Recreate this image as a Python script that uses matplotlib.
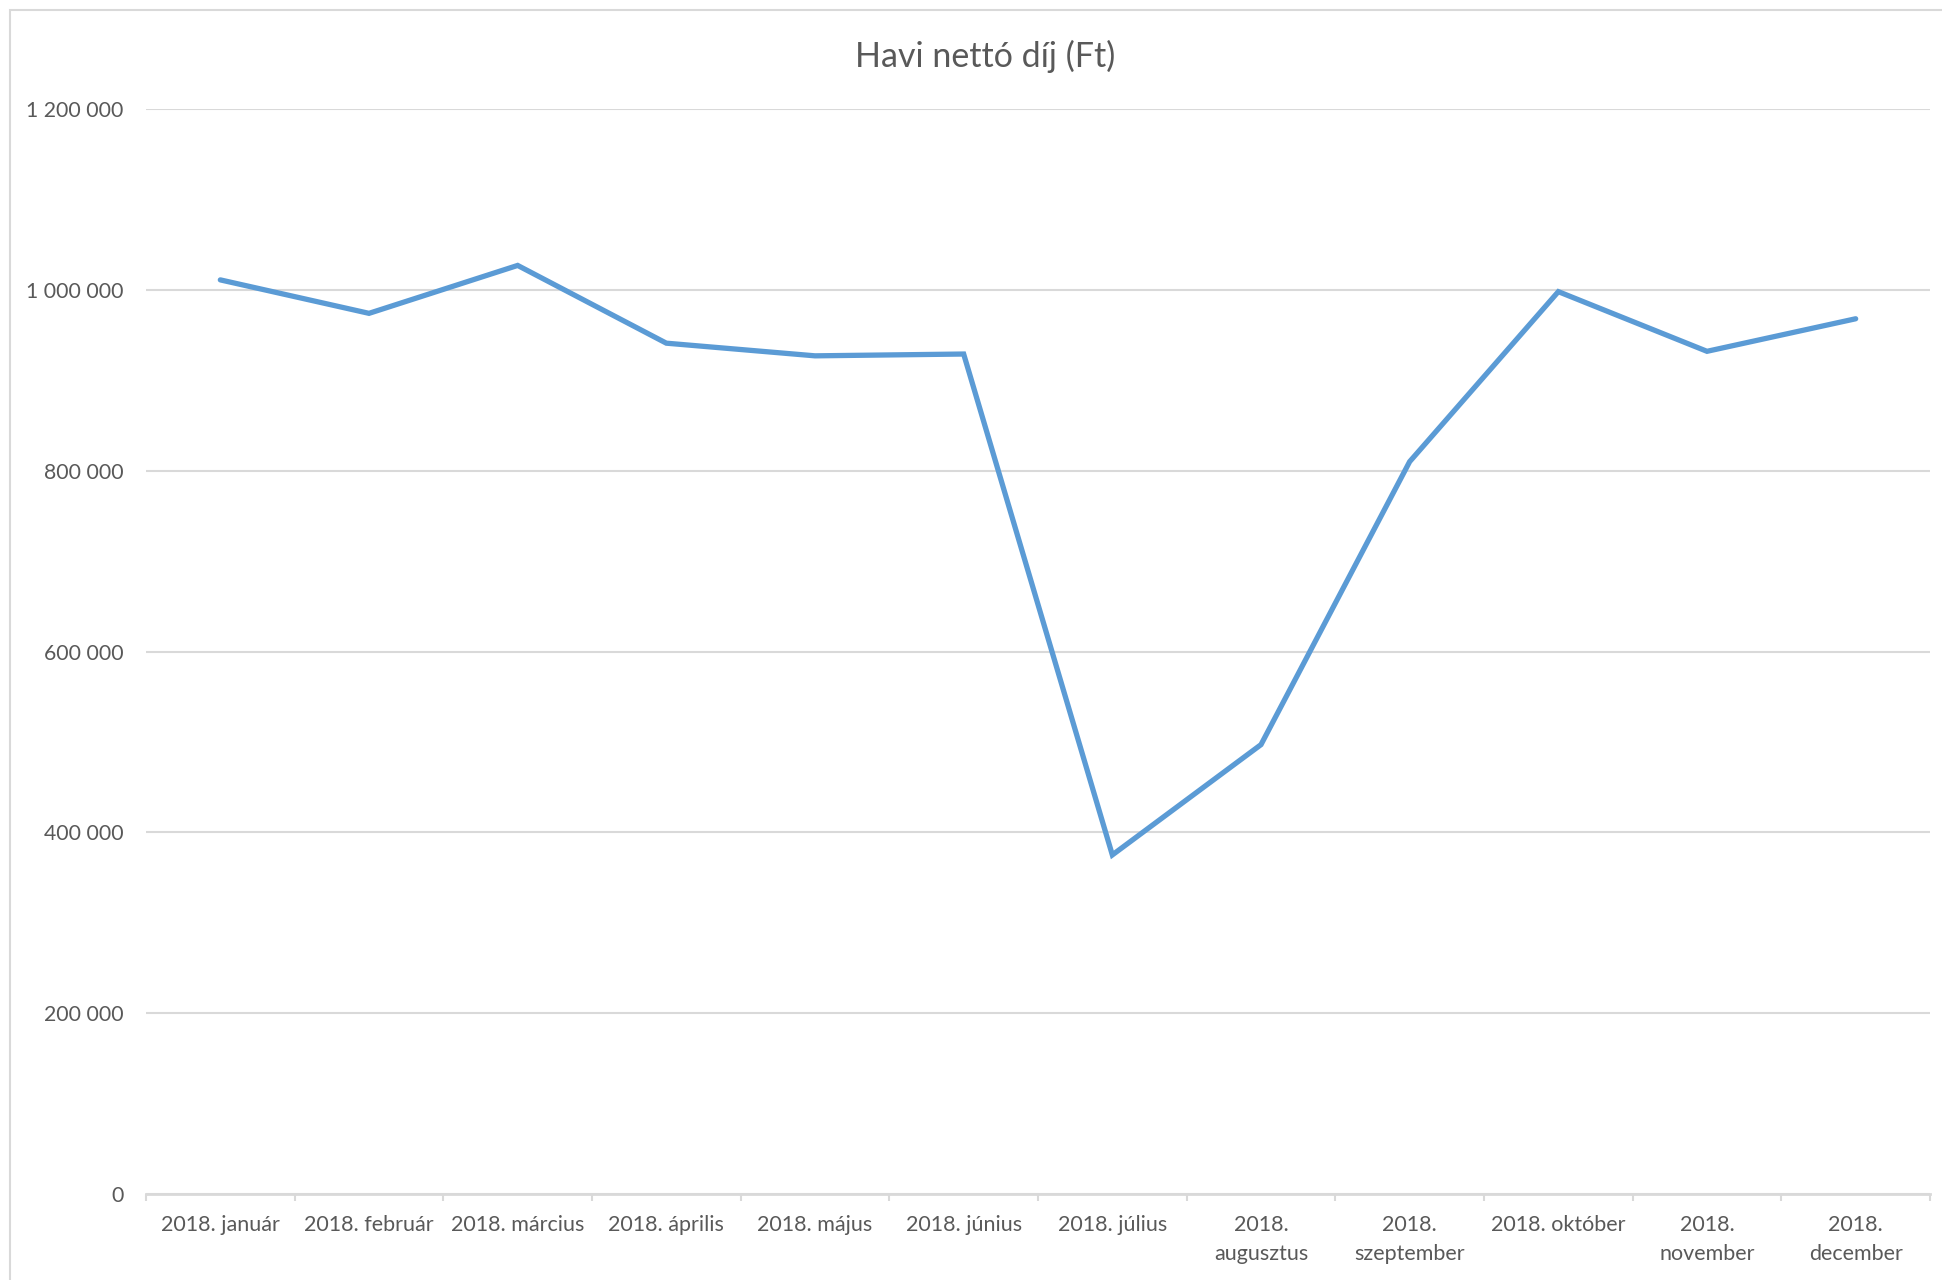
import matplotlib.pyplot as plt
from matplotlib.patches import Rectangle
from matplotlib.ticker import FixedLocator, FuncFormatter

# monthly net fee values (Ft)
months = ["2018. január", "2018. február", "2018. március", "2018. április",
          "2018. május", "2018. június", "2018. július", "2018.\naugusztus",
          "2018.\nszeptember", "2018. október", "2018.\nnovember", "2018.\ndecember"]
values = [1011000, 974000, 1027000, 941000, 927000, 929000,
          375000, 497000, 810000, 998000, 932000, 968000]
yticks = [0, 200000, 400000, 600000, 800000, 1000000, 1200000]

plt.rcParams['font.family'] = ['Lato', 'DejaVu Sans']
text_col = "#595959"
grid_col = "#d9d9d9"

fig = plt.figure(figsize=(19.42, 12.8), dpi=100)
ax = fig.add_axes([146 / 1942, 1 - 1194 / 1280, (1930 - 146) / 1942, (1194 - 109) / 1280])

x = list(range(len(months)))
ax.plot(x, values, color="#5b9bd5", lw=3.8, solid_joinstyle="miter", solid_capstyle="round", zorder=3)

ax.set_xlim(-0.5, len(months) - 0.5)
ax.set_ylim(0, 1200000)
ax.set_yticks(yticks)
ax.yaxis.set_major_formatter(FuncFormatter(lambda v, p: f"{int(v):,}".replace(",", " ")))
ax.grid(axis="y", color=grid_col, lw=1.5, zorder=0)

ax.set_xticks(x)
ax.set_xticklabels(months, linespacing=1.6)
ax.xaxis.set_minor_locator(FixedLocator([i - 0.5 for i in range(len(months) + 1)]))
ax.tick_params(axis="x", which="major", length=0, pad=15, labelsize=15.5, labelcolor=text_col)
ax.tick_params(axis="x", which="minor", length=5, width=1.5, color=grid_col, direction="out")
ax.tick_params(axis="y", length=0, pad=16, labelsize=15.3, labelcolor=text_col)

for s in ["top", "right", "left"]:
    ax.spines[s].set_visible(False)
ax.spines["bottom"].set_color(grid_col)
ax.spines["bottom"].set_linewidth(2)
ax.spines["bottom"].set_zorder(2)

fig.text(985 / 1942, 1 - 56 / 1280, "Havi nettó díj (Ft)",
         ha="center", va="center", fontsize=24.5, color=text_col)

# chart area border
fig.patches.append(Rectangle((10 / 1942, -0.1), 1.2, 1 - 10 / 1280 + 0.1,
                             transform=fig.transFigure, fill=False,
                             edgecolor=grid_col, lw=1.5))

fig.savefig("out.png", dpi=100)
